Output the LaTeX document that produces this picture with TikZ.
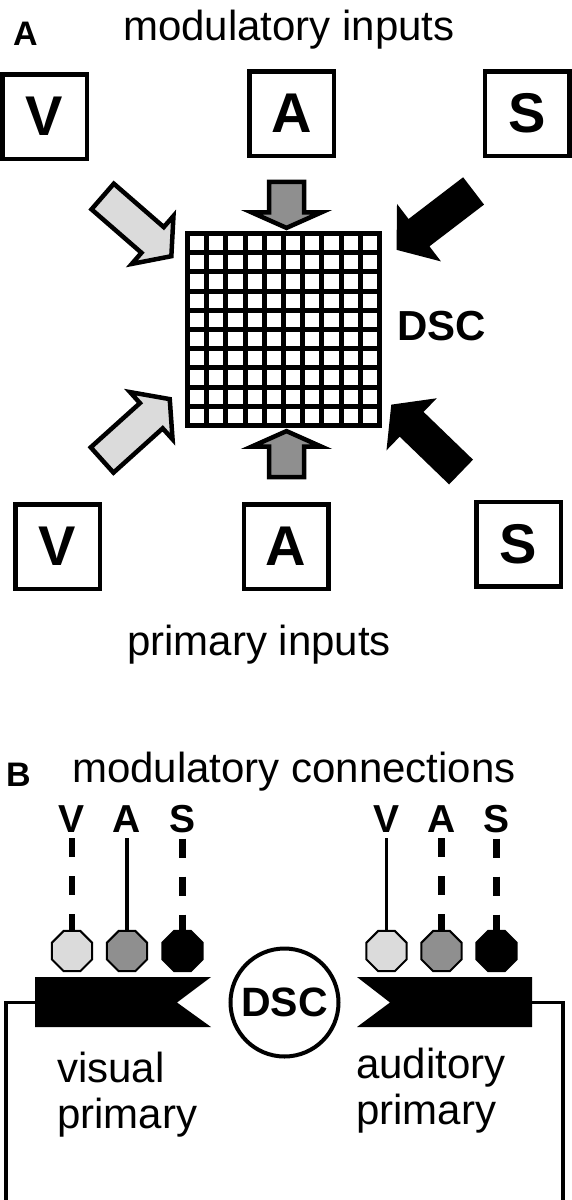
\documentclass[tikz,border=0pt]{standalone}
\usepackage{fontspec}
\setmainfont{Liberation Sans}
\usetikzlibrary{shapes.arrows,shapes.geometric}
\definecolor{lightin}{gray}{0.86}
\definecolor{midin}{gray}{0.56}
\newcommand{\bigfont}{\fontsize{42}{46}\selectfont}
\newcommand{\boldfont}[1]{\fontsize{#1}{#1}\selectfont\bfseries}

\begin{document}
\begin{tikzpicture}[x=1pt,y=-1pt,
  inbox/.style={draw,line width=4.5pt,minimum size=84.5pt,inner sep=0pt,font=\boldfont{56}},
  txt/.style={anchor=base west,inner sep=0pt,font=\bigfont},
  panel/.style={anchor=base west,inner sep=0pt,font=\boldfont{34}},
  lightarr/.style={single arrow,draw,line width=4.5pt,fill=lightin,inner xsep=0pt,inner ysep=14.75pt,
    single arrow head extend=14.75pt,single arrow tip angle=104,minimum height=91pt},
  midarr/.style={single arrow,draw,line width=4.5pt,fill=midin,inner xsep=0pt,inner ysep=15.25pt,
    single arrow head extend=17.5pt,single arrow tip angle=132,minimum height=46pt},
  darkarr/.style={single arrow,fill=black,inner xsep=0pt,inner ysep=17pt,
    single arrow head extend=19pt,single arrow tip angle=104,minimum height=97pt},
  gridline/.style={line width=5pt},
  oct/.style={regular polygon,regular polygon sides=8,draw,line width=2pt,minimum size=43.5pt,inner sep=0pt},
  sig/.style={anchor=base,inner sep=0pt,font=\boldfont{39}},
  modoff/.style={line width=6.5pt,dash pattern=on 19pt off 19pt,shorten <=6pt},
  modon/.style={line width=3.5pt,shorten <=6pt},
  wire/.style={line width=3.5pt}]
\useasboundingbox (0,0) rectangle (572,1200);

% panel A
\node[panel] (pa) at (13,45) {A};
\node[txt] (modin) at (123,40) {modulatory inputs};

\node[inbox] (vmod) at (44.5,116.5) {V};
\node[inbox] (amod) at (291.5,113.5) {A};
\node[inbox] (smod) at (527,113.5) {S};

\node[draw,line width=5pt,minimum size=192pt,inner sep=0pt,outer sep=0pt] (dsc) at (283.5,329.5) {};
\foreach \k in {1,...,9}
{
  \draw[gridline] ([xshift=\k*19.2pt]dsc.north west) -- ([xshift=\k*19.2pt]dsc.south west);
  \draw[gridline] ([yshift=-\k*19.2pt]dsc.north west) -- ([yshift=-\k*19.2pt]dsc.north east);
}
\node[anchor=base west,inner sep=0pt,font=\boldfont{42}] (dsclbl) at (397,340) {DSC};

\node[lightarr,rotate=-41] (vmodarr) at (132,222) {};
\node[midarr,rotate=-90] (amodarr) at (286.5,201) {};
\node[darkarr,rotate=-142.6] (smodarr) at (440.4,216.3) {};

\node[lightarr,rotate=42] (vpriarr) at (131,434) {};
\node[midarr,rotate=90] (apriarr) at (286.5,458) {};
\node[darkarr,rotate=136] (spriarr) at (431,443) {};

\node[inbox] (vpri) at (57.5,546.5) {V};
\node[inbox] (apri) at (286,546.5) {A};
\node[inbox] (spri) at (518.5,544) {S};

\node[txt] (priin) at (127,655) {primary inputs};

% panel B
\node[panel] (pb) at (6,786) {B};
\node[txt] (modcon) at (72,782) {modulatory connections};

\node[oct,fill=lightin] (vv) at (72,951) {};
\node[oct,fill=midin] (va) at (127,951) {};
\node[oct,fill=black] (vs) at (182.5,951) {};
\node[oct,fill=lightin] (av) at (386.5,951) {};
\node[oct,fill=midin] (aa) at (441.5,951) {};
\node[oct,fill=black] (as) at (496.5,951) {};

\node[sig] (vvl) at (72,832) {V};
\node[sig] (val) at (127,832) {A};
\node[sig] (vsl) at (182.5,832) {S};
\node[sig] (avl) at (386.5,832) {V};
\node[sig] (aal) at (441.5,832) {A};
\node[sig] (asl) at (496.5,832) {S};

\draw[modoff] (vvl) -- (vv);
\draw[modon] (val) -- (va);
\draw[modoff] (vsl) -- (vs);
\draw[modon] (avl) -- (av);
\draw[modoff] (aal) -- (aa);
\draw[modoff] (asl) -- (as);

\fill (35,977) -- (211,977) -- (177,1002.5) -- (211,1027) -- (35,1027) -- cycle;
\fill (532,977) -- (357,977) -- (390,1002.5) -- (357,1027) -- (532,1027) -- cycle;
\coordinate (vbar) at (35,1002.5);
\coordinate (vend) at (6,1200);
\coordinate (abar) at (532,1002.5);
\coordinate (aend) at (563,1200);
\draw[wire] (vbar) -| (vend);
\draw[wire] (abar) -| (aend);

\node[draw,circle,line width=4pt,minimum size=108pt,inner sep=0pt,font=\boldfont{41}] (dscb) at (284.5,1002.5) {DSC};

\node[txt,align=left] (vislbl) at (57,1128) {visual\\primary};
\node[txt,align=left] (audlbl) at (356,1124) {auditory\\primary};
\end{tikzpicture}
\end{document}
